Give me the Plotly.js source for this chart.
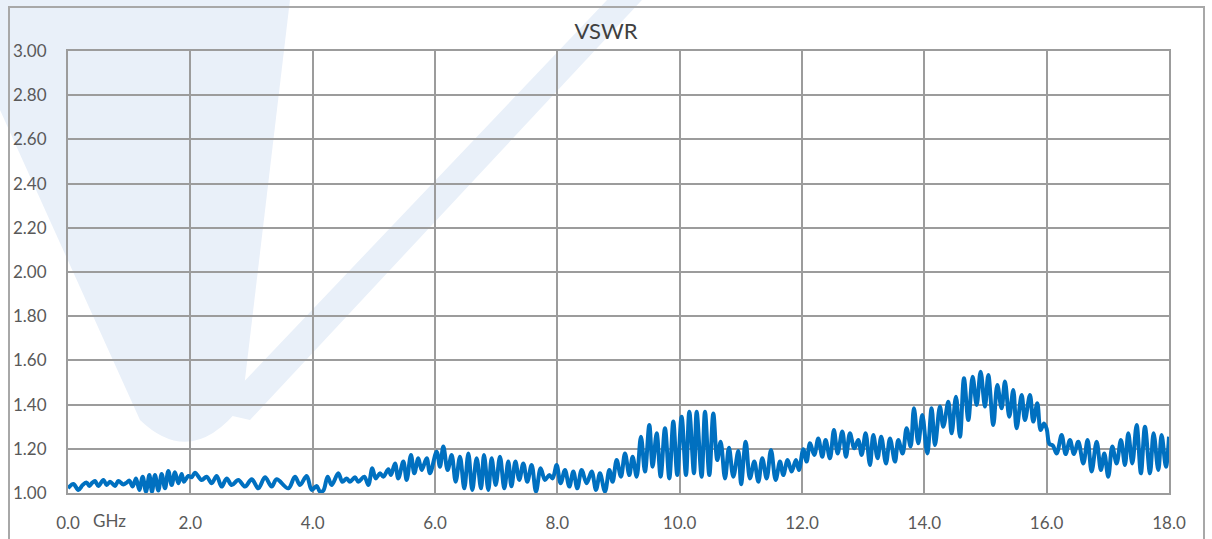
<!DOCTYPE html>
<html>
<head>
<meta charset="utf-8">
<script src="https://cdn.plot.ly/plotly-3.0.1.min.js"></script>
<style>
  html, body { margin: 0; padding: 0; background: #ffffff; }
  #chart { width: 1212px; height: 539px; }
</style>
</head>
<body>
<div id="chart"></div>
<script>
// ---- data (frequency in GHz, VSWR) ----
const chartTitle = "VSWR";
const xUnitLabel = "GHz";
const xTickValues = [0, 2, 4, 6, 8, 10, 12, 14, 16, 18];
const yTickValues = [1.0, 1.2, 1.4, 1.6, 1.8, 2.0, 2.2, 2.4, 2.6, 2.8, 3.0];

const freqGHz = [
  0.000, 0.087, 0.169, 0.240, 0.305, 0.349, 0.398, 0.441, 0.496, 0.578,
  0.632, 0.687, 0.768, 0.823, 0.905, 0.959, 1.003, 1.057, 1.112, 1.166,
  1.221, 1.275, 1.330, 1.373, 1.422, 1.477, 1.531, 1.586, 1.640, 1.695,
  1.749, 1.804, 1.858, 1.896, 1.967, 2.022, 2.076, 2.185, 2.267, 2.349,
  2.430, 2.512, 2.594, 2.676, 2.785, 2.894, 3.003, 3.112, 3.221, 3.330,
  3.411, 3.602, 3.711, 3.793, 3.902, 3.984, 4.065, 4.120, 4.174, 4.245,
  4.310, 4.419, 4.485, 4.556, 4.610, 4.692, 4.746, 4.844, 4.910, 4.975,
  5.030, 5.101, 5.155, 5.237, 5.280, 5.346, 5.400, 5.482, 5.537, 5.607,
  5.662, 5.727, 5.782, 5.864, 5.918, 6.027, 6.081, 6.136, 6.207, 6.272,
  6.338, 6.408, 6.479, 6.545, 6.610, 6.681, 6.752, 6.801, 6.872, 6.926,
  6.992, 7.062, 7.133, 7.198, 7.250, 7.315, 7.378, 7.444, 7.509, 7.580,
  7.651, 7.727, 7.798, 7.869, 7.923, 7.989, 8.054, 8.125, 8.196, 8.261,
  8.327, 8.397, 8.479, 8.561, 8.632, 8.697, 8.779, 8.850, 8.904, 8.970,
  9.040, 9.106, 9.177, 9.231, 9.297, 9.367, 9.433, 9.504, 9.558, 9.624,
  9.689, 9.760, 9.831, 9.896, 9.961, 10.032, 10.103, 10.158, 10.234, 10.278,
  10.359, 10.414, 10.485, 10.550, 10.615, 10.670, 10.741, 10.806, 10.877, 10.959,
  11.005, 11.079, 11.149, 11.220, 11.286, 11.351, 11.422, 11.493, 11.569, 11.640,
  11.694, 11.765, 11.831, 11.901, 11.950, 12.021, 12.076, 12.130, 12.201, 12.266,
  12.332, 12.386, 12.457, 12.522, 12.582, 12.659, 12.719, 12.784, 12.855, 12.920,
  12.975, 13.040, 13.111, 13.166, 13.236, 13.295, 13.373, 13.438, 13.520, 13.574,
  13.645, 13.710, 13.776, 13.830, 13.901, 13.967, 14.048, 14.119, 14.174, 14.255,
  14.310, 14.392, 14.446, 14.517, 14.583, 14.648, 14.719, 14.790, 14.855, 14.920,
  14.991, 15.046, 15.127, 15.193, 15.263, 15.318, 15.389, 15.454, 15.509, 15.591,
  15.645, 15.727, 15.781, 15.847, 15.901, 15.956, 16.000, 16.045, 16.100, 16.163,
  16.245, 16.310, 16.381, 16.446, 16.517, 16.599, 16.669, 16.735, 16.817, 16.887,
  16.942, 17.007, 17.073, 17.144, 17.214, 17.280, 17.334, 17.400, 17.471, 17.541,
  17.607, 17.689, 17.748, 17.825, 17.879, 17.950, 18.000
];

const vswr = [
  1.021, 1.041, 1.014, 1.036, 1.047, 1.032, 1.047, 1.054, 1.032, 1.059,
  1.036, 1.051, 1.032, 1.054, 1.039, 1.047, 1.056, 1.029, 1.066, 1.014,
  1.074, 1.006, 1.081, 1.006, 1.081, 1.011, 1.086, 1.021, 1.100, 1.036,
  1.094, 1.044, 1.086, 1.051, 1.077, 1.071, 1.092, 1.059, 1.074, 1.044,
  1.077, 1.029, 1.066, 1.036, 1.059, 1.029, 1.062, 1.021, 1.071, 1.029,
  1.062, 1.021, 1.074, 1.036, 1.077, 1.014, 1.032, 1.006, 1.011, 1.074,
  1.036, 1.089, 1.051, 1.066, 1.051, 1.071, 1.051, 1.074, 1.036, 1.112,
  1.066, 1.089, 1.074, 1.107, 1.081, 1.134, 1.066, 1.142, 1.059, 1.172,
  1.089, 1.157, 1.104, 1.157, 1.089, 1.187, 1.119, 1.210, 1.104, 1.172,
  1.051, 1.164, 1.021, 1.179, 1.014, 1.157, 1.021, 1.172, 1.014, 1.157,
  1.036, 1.164, 1.021, 1.142, 1.030, 1.142, 1.059, 1.134, 1.051, 1.127,
  1.006, 1.112, 1.059, 1.081, 1.066, 1.127, 1.044, 1.104, 1.029, 1.097,
  1.021, 1.104, 1.044, 1.097, 1.014, 1.089, 1.006, 1.104, 1.051, 1.149,
  1.074, 1.179, 1.081, 1.164, 1.074, 1.255, 1.097, 1.308, 1.119, 1.270,
  1.074, 1.293, 1.066, 1.323, 1.081, 1.345, 1.081, 1.368, 1.089, 1.368,
  1.074, 1.368, 1.081, 1.360, 1.149, 1.232, 1.066, 1.205, 1.074, 1.190,
  1.040, 1.232, 1.066, 1.142, 1.051, 1.157, 1.066, 1.195, 1.059, 1.142,
  1.081, 1.149, 1.097, 1.149, 1.104, 1.198, 1.142, 1.225, 1.172, 1.247,
  1.164, 1.240, 1.157, 1.285, 1.179, 1.278, 1.164, 1.270, 1.202, 1.240,
  1.172, 1.270, 1.127, 1.262, 1.157, 1.255, 1.134, 1.247, 1.142, 1.240,
  1.179, 1.293, 1.210, 1.383, 1.225, 1.353, 1.179, 1.383, 1.217, 1.391,
  1.300, 1.413, 1.270, 1.436, 1.255, 1.519, 1.330, 1.526, 1.398, 1.549,
  1.391, 1.534, 1.308, 1.489, 1.383, 1.504, 1.345, 1.466, 1.293, 1.443,
  1.330, 1.443, 1.323, 1.406, 1.285, 1.315, 1.290, 1.222, 1.215, 1.179,
  1.262, 1.176, 1.240, 1.176, 1.232, 1.134, 1.240, 1.097, 1.232, 1.104,
  1.179, 1.074, 1.210, 1.134, 1.240, 1.127, 1.270, 1.134, 1.308, 1.089,
  1.300, 1.089, 1.270, 1.104, 1.262, 1.119, 1.255
];

// ---- layout geometry (pixels) ----
const W = 1212, H = 539;
const PL = 68, PR = 1169, PT = 51, PB = 493;
const pw = PR - PL, ph = PB - PT;
const fx = px => (px - PL) / pw;
const fy = py => (PB - py) / ph;
const P = (px, py) => fx(px).toFixed(4) + "," + fy(py).toFixed(4);

const axisColor = "#9c9c9c";
const tickFont = { family: "Lato, 'Open Sans', sans-serif", size: 17, color: "#595959" };
const wmColor = "#e9f0f9";

const trace = {
  type: "scatter",
  mode: "lines",
  x: freqGHz,
  y: vswr,
  line: { color: "#0070c0", width: 4, shape: "spline", smoothing: 1 },
  hoverinfo: "x+y",
  showlegend: false
};

const layout = {
  width: W,
  height: H,
  margin: { l: PL, r: W - PR, t: PT, b: H - PB, pad: 0 },
  paper_bgcolor: "#ffffff",
  plot_bgcolor: "rgba(0,0,0,0)",
  showlegend: false,
  title: {
    text: chartTitle,
    xref: "container", x: 0.5, xanchor: "center",
    yref: "container", y: 1 - 31 / H, yanchor: "middle",
    font: { family: "Lato, 'Open Sans', sans-serif", size: 22, color: "#404040" }
  },
  xaxis: {
    range: [0, 18],
    tickvals: xTickValues,
    tickformat: ".1f",
    showgrid: true, gridcolor: axisColor, gridwidth: 2,
    showline: true, linecolor: axisColor, linewidth: 2, mirror: true,
    zeroline: false, ticks: "",
    ticklabelstandoff: 14,
    tickfont: tickFont,
    fixedrange: true
  },
  yaxis: {
    range: [1, 3],
    tickvals: yTickValues,
    tickformat: ".2f",
    showgrid: true, gridcolor: axisColor, gridwidth: 2,
    showline: true, linecolor: axisColor, linewidth: 2, mirror: true,
    zeroline: false, ticks: "",
    ticklabelstandoff: 16,
    tickfont: tickFont,
    fixedrange: true
  },
  annotations: [{
    text: xUnitLabel,
    xref: "paper", yref: "paper",
    x: fx(91), y: fy(520),
    xanchor: "left", yanchor: "middle",
    showarrow: false,
    font: tickFont
  }],
  shapes: [
    // faint watermark
    {
      type: "path", xref: "paper", yref: "paper", layer: "below",
      path: "M" + P(0, 0) + " L" + P(290, 0) + " L" + P(242, 405) +
            " Q" + P(192, 470) + " " + P(140, 420) + " L" + P(0, 110) + " Z",
      fillcolor: wmColor, line: { width: 0 }
    },
    {
      type: "path", xref: "paper", yref: "paper", layer: "below",
      path: "M" + P(607, 0) + " L" + P(642, 0) + " L" + P(250, 420) +
            " L" + P(215, 412) + " Z",
      fillcolor: wmColor, line: { width: 0 }
    },
    // outer chart border
    {
      type: "rect", xref: "paper", yref: "paper", layer: "above",
      x0: fx(9), x1: fx(1204), y0: fy(560), y1: fy(7),
      line: { color: "#a8a8a8", width: 2 }, fillcolor: "rgba(0,0,0,0)"
    }
  ]
};

Plotly.newPlot("chart", [trace], layout, { displayModeBar: false, staticPlot: true });
</script>
</body>
</html>
